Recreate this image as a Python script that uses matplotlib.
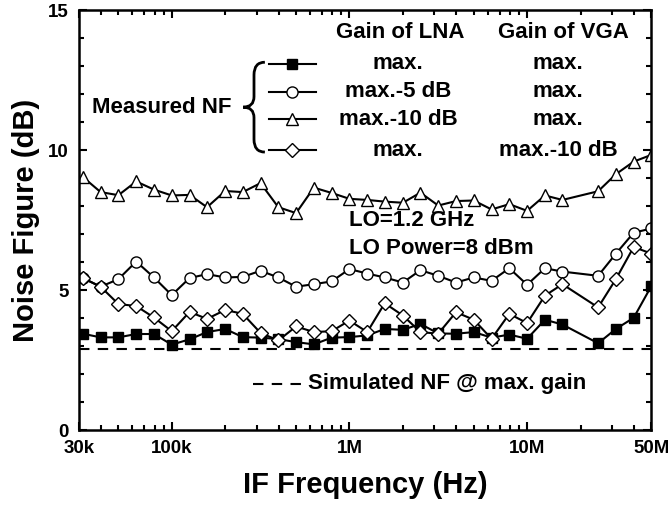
import numpy as np
import matplotlib
matplotlib.use("Agg")
import matplotlib.pyplot as plt
from matplotlib.path import Path
from matplotlib.patches import PathPatch
from matplotlib.ticker import FixedLocator, NullFormatter, MultipleLocator

plt.rcParams['font.family'] = ['Liberation Sans', 'DejaVu Sans']
plt.rcParams['font.weight'] = 'bold'

# IF frequencies (Hz), 10 points per decade, 20 MHz point not measured
freq = [31.6e3, 39.8e3, 50.1e3, 63.1e3, 79.4e3, 100e3, 126e3, 158e3, 200e3, 251e3,
        316e3, 398e3, 501e3, 631e3, 794e3, 1.0e6, 1.26e6, 1.58e6, 2.0e6, 2.51e6,
        3.16e6, 3.98e6, 5.01e6, 6.31e6, 7.94e6, 10.0e6, 12.6e6, 15.8e6,
        25.1e6, 31.6e6, 39.8e6, 50.1e6]

# measured NF (dB)
nf_max = [3.44, 3.31, 3.31, 3.43, 3.43, 3.05, 3.24, 3.50, 3.61, 3.32,
          3.30, 3.25, 3.14, 3.06, 3.30, 3.32, 3.38, 3.61, 3.58, 3.79,
          3.45, 3.44, 3.50, 3.30, 3.41, 3.26, 3.94, 3.77,
          3.10, 3.61, 4.01, 5.15]
nf_lna5 = [5.43, 5.12, 5.39, 6.02, 5.45, 4.82, 5.43, 5.57, 5.45, 5.47,
           5.69, 5.45, 5.12, 5.21, 5.31, 5.75, 5.59, 5.45, 5.27, 5.71,
           5.51, 5.27, 5.45, 5.33, 5.78, 5.19, 5.78, 5.66,
           5.51, 6.30, 7.05, 7.20]
nf_lna10 = [9.04, 8.50, 8.39, 8.88, 8.59, 8.38, 8.40, 7.96, 8.54, 8.50,
            8.82, 7.96, 7.75, 8.66, 8.47, 8.26, 8.22, 8.16, 8.12, 8.48,
            8.02, 8.18, 8.20, 7.88, 8.07, 7.83, 8.38, 8.22,
            8.53, 9.14, 9.59, 9.83]
nf_vga10 = [5.43, 5.12, 4.50, 4.43, 4.02, 3.53, 4.22, 3.97, 4.29, 4.15,
            3.47, 3.20, 3.70, 3.50, 3.53, 3.91, 3.50, 4.53, 4.09, 3.50,
            3.44, 4.21, 3.94, 3.26, 4.15, 3.82, 4.80, 5.21,
            4.38, 5.39, 6.54, 6.30]
nf_sim = 2.9

xtick_pos = [3e4, 1e5, 1e6, 1e7, 5e7]
xtick_lbl = ['30k', '100k', '1M', '10M', '50M']

fig = plt.figure(figsize=(6.68, 5.08), dpi=100)
ax = fig.add_axes([0.118, 0.1535, 0.857, 0.8265])

ax.axhline(nf_sim, color='k', lw=1.5, ls=(0, (5, 4)))

kw = dict(color='k', lw=1.5, mec='k', mew=1.0)
ax.plot(freq, nf_lna10, marker='^', ms=9, mfc='white', **kw)
ax.plot(freq, nf_lna5, marker='o', ms=8, mfc='white', **kw)
ax.plot(freq, nf_max, marker='s', ms=7, mfc='black', **kw)
ax.plot(freq, nf_vga10, marker='D', ms=7.5, mfc='white', **kw)

ax.set_xscale('log')
ax.set_xlim(3e4, 5e7)
ax.set_ylim(0, 15)
ax.xaxis.set_major_locator(FixedLocator(xtick_pos))
ax.set_xticklabels(xtick_lbl)
minor = [m * 10 ** e for e in range(4, 8) for m in range(1, 10)]
ax.xaxis.set_minor_locator(FixedLocator([v for v in minor if 3e4 < v < 5e7]))
ax.xaxis.set_minor_formatter(NullFormatter())
ax.yaxis.set_major_locator(MultipleLocator(5))
ax.yaxis.set_minor_locator(MultipleLocator(1))

ax.tick_params(which='both', direction='in', top=True, right=True, width=1.5,
               labelsize=13.5, pad=7)
ax.tick_params(which='major', length=6)
ax.tick_params(which='minor', length=3.5)
for lab in ax.get_xticklabels() + ax.get_yticklabels():
    lab.set_fontweight('bold')
for sp in ax.spines.values():
    sp.set_linewidth(1.8)

ax.set_xlabel('IF Frequency (Hz)', fontsize=21, fontweight='bold', labelpad=10)
ax.set_ylabel('Noise Figure (dB)', fontsize=21, fontweight='bold', labelpad=6)

# legend table drawn by hand
T = ax.transAxes
fs = 16
tk = dict(transform=T, fontsize=fs, fontweight='bold', ha='center', va='center')
ax.text(0.561, 0.946, 'Gain of LNA', **tk)
ax.text(0.846, 0.946, 'Gain of VGA', **tk)
rows_y = [0.872, 0.806, 0.740, 0.666]
rows_lna = ['max.', 'max.-5 dB', 'max.-10 dB', 'max.']
rows_vga = ['max.', 'max.', 'max.', 'max.-10 dB']
rows_mk = [('s', 7, 'black'), ('o', 8, 'white'), ('^', 9, 'white'), ('D', 7.5, 'white')]
for yy, a, b, (m, s, fc) in zip(rows_y, rows_lna, rows_vga, rows_mk):
    ax.plot([0.332, 0.414], [yy, yy], transform=T, marker=None, color='k', lw=1.5,
            clip_on=False)
    ax.plot([0.373], [yy], transform=T, marker=m, ms=s, mfc=fc, mec='k', mew=1.0,
            clip_on=False)
    ax.text(0.558, yy, a, **tk)
    ax.text(0.837, yy, b, **tk)

ax.text(0.267, 0.769, 'Measured NF', transform=T, fontsize=fs, fontweight='bold',
        ha='right', va='center')

# curly brace grouping the measured curves
xr, xm, xl = 0.325, 0.306, 0.287
yt, ym, yb = 0.876, 0.769, 0.662
verts = [(xr, yt), (xm, yt), (xm, yt - 0.03),
         (xm, ym + 0.025),
         (xm, ym), (xl, ym),
         (xm, ym), (xm, ym - 0.025),
         (xm, yb + 0.03),
         (xm, yb), (xr, yb)]
codes = [Path.MOVETO, Path.CURVE3, Path.CURVE3,
         Path.LINETO,
         Path.CURVE3, Path.CURVE3,
         Path.CURVE3, Path.CURVE3,
         Path.LINETO,
         Path.CURVE3, Path.CURVE3]
ax.add_patch(PathPatch(Path(verts, codes), transform=T, fill=False, lw=2,
                       edgecolor='k', clip_on=False))

ax.text(0.472, 0.500, 'LO=1.2 GHz', transform=T, fontsize=fs, fontweight='bold',
        ha='left', va='center')
ax.text(0.472, 0.433, 'LO Power=8 dBm', transform=T, fontsize=fs, fontweight='bold',
        ha='left', va='center')

ax.plot([0.304, 0.393], [0.110, 0.110], transform=T, color='k', lw=1.5,
        ls=(0, (5, 4)))
ax.text(0.400, 0.110, 'Simulated NF @ max. gain', transform=T, fontsize=fs,
        fontweight='bold', ha='left', va='center')

fig.savefig('out.png', dpi=100)
